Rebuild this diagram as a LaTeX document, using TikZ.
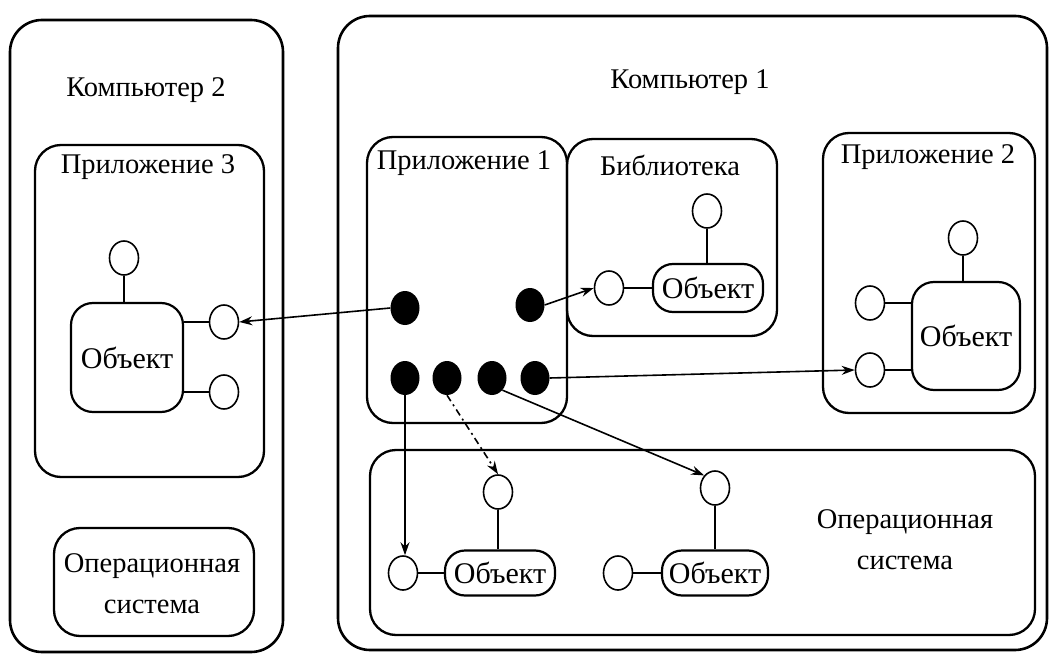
\documentclass[tikz,border=0pt]{standalone}
\usepackage{fontspec}
\setmainfont{Liberation Serif}
\usetikzlibrary{shapes.geometric,fit,arrows.meta}
\newcommand\dfont{\fontsize{28.5}{41}\selectfont}
\newcommand\ofont{\fontsize{30}{36}\selectfont}
\begin{document}
\begin{tikzpicture}[x=1pt,y=-1pt,
  outerbox/.style={draw, line width=2.6pt, rounded corners=32pt, inner sep=0pt},
  innerbox/.style={draw, line width=2.3pt, rounded corners=26pt, inner sep=0pt},
  objbox/.style={draw, line width=2.2pt, rounded corners=22pt, inner sep=0pt, font=\ofont},
  pillbox/.style={draw, line width=2.2pt, rounded corners=20pt, inner sep=0pt, font=\ofont},
  port/.style={draw, ellipse, line width=1.6pt, minimum width=29pt, minimum height=34pt, inner sep=0pt, fill=white},
  dotnode/.style={fill=black, ellipse, minimum width=29pt, minimum height=34pt, inner sep=0pt},
  lbl/.style={font=\dfont, inner sep=0pt, align=center},
  link/.style={line width=1.6pt},
  arr/.style={link, -{Stealth[length=13pt,width=9pt]}},
  dasharr/.style={arr, dash pattern=on 7pt off 4pt on 2pt off 4pt}
]
\useasboundingbox (0,0) rectangle (1055,658);

% Computer 2
\node[outerbox, fit={(10,20) (283,652)}] (comp2) {};
\node[lbl] (comp2t) at (146,90) {Компьютер 2};
\node[innerbox, fit={(35,145) (264,477)}] (app3) {};
\node[lbl] (app3t) at (148,167) {Приложение 3};
\node[objbox, minimum width=112pt, minimum height=109pt] (o3) at (127,357.5) {Объект};
\node[port] (t3) at (124,258) {};
\node[port] (r3a) at (224,322) {};
\node[port] (r3b) at (224,392) {};
\draw[link] (t3.south) -- (t3.south |- o3.north);
\draw[link] (o3.east |- r3a) -- (r3a.west);
\draw[link] (o3.east |- r3b) -- (r3b.west);
\node[innerbox, fit={(54,528) (254,636)}] (os2) {};
\node[lbl] (os2t) at (152,584) {Операционная\\система};

% Computer 1
\node[outerbox, fit={(338,16) (1047,650)}] (comp1) {};
\node[lbl] (comp1t) at (690,82) {Компьютер 1};

% Application 1
\node[innerbox, fit={(367,137) (567,423)}] (app1) {};
\node[lbl] (app1t) at (464,163) {Приложение 1};
\node[dotnode] (d1) at (405,308) {};
\node[dotnode] (d2) at (530,305) {};
\node[dotnode] (b1) at (405,378) {};
\node[dotnode] (b2) at (447,378) {};
\node[dotnode] (b3) at (492,378) {};
\node[dotnode] (b4) at (535,378) {};

% Library
\node[innerbox, fit={(567,139) (777,336)}] (lib) {};
\node[lbl] (libt) at (670,165) {Библиотека};
\node[pillbox, minimum width=110pt, minimum height=48pt] (ol) at (708,288) {Объект};
\node[port] (tl) at (707,211) {};
\node[port] (ll) at (609,288) {};
\draw[link] (tl.south) -- (tl.south |- ol.north);
\draw[link] (ll.east) -- (ol.west |- ll);

% Application 2
\node[innerbox, fit={(823,133) (1035,413)}] (app2) {};
\node[lbl] (app2t) at (928,157) {Приложение 2};
\node[objbox, minimum width=108pt, minimum height=108pt] (o2) at (966,336) {Объект};
\node[port] (t2) at (963,238) {};
\node[port] (l2a) at (870,303) {};
\node[port] (l2b) at (870,370) {};
\draw[link] (t2.south) -- (t2.south |- o2.north);
\draw[link] (l2a.east) -- (o2.west |- l2a);
\draw[link] (l2b.east) -- (o2.west |- l2b);

% Operating system 1
\node[innerbox, fit={(370,450) (1035,635)}] (os1) {};
\node[lbl] (os1t) at (905,540) {Операционная\\система};
\node[pillbox, minimum width=110pt, minimum height=45pt] (oa) at (500,573) {Объект};
\node[pillbox, minimum width=106pt, minimum height=45pt] (ob) at (715,573) {Объект};
\node[port] (la) at (403,573) {};
\node[port] (ta) at (498,492) {};
\node[port] (lb) at (618,573) {};
\node[port] (tb) at (715,488) {};
\draw[link] (la.east) -- (oa.west |- la);
\draw[link] (ta.south) -- (ta.south |- oa.north);
\draw[link] (lb.east) -- (ob.west |- lb);
\draw[link] (tb.south) -- (tb.south |- ob.north);

% Calls
\draw[arr] (d1.west) -- (r3a.east);
\draw[arr] (d2.east) -- (ll.west);
\draw[arr] (b4.east) -- (l2b.west);
\draw[arr] (b1.south) -- (b1.south |- la.north);
\draw[dasharr] (b2.south) -- (ta.north);
\draw[arr] (b3.south east) -- (tb.north west);
\end{tikzpicture}
\end{document}
